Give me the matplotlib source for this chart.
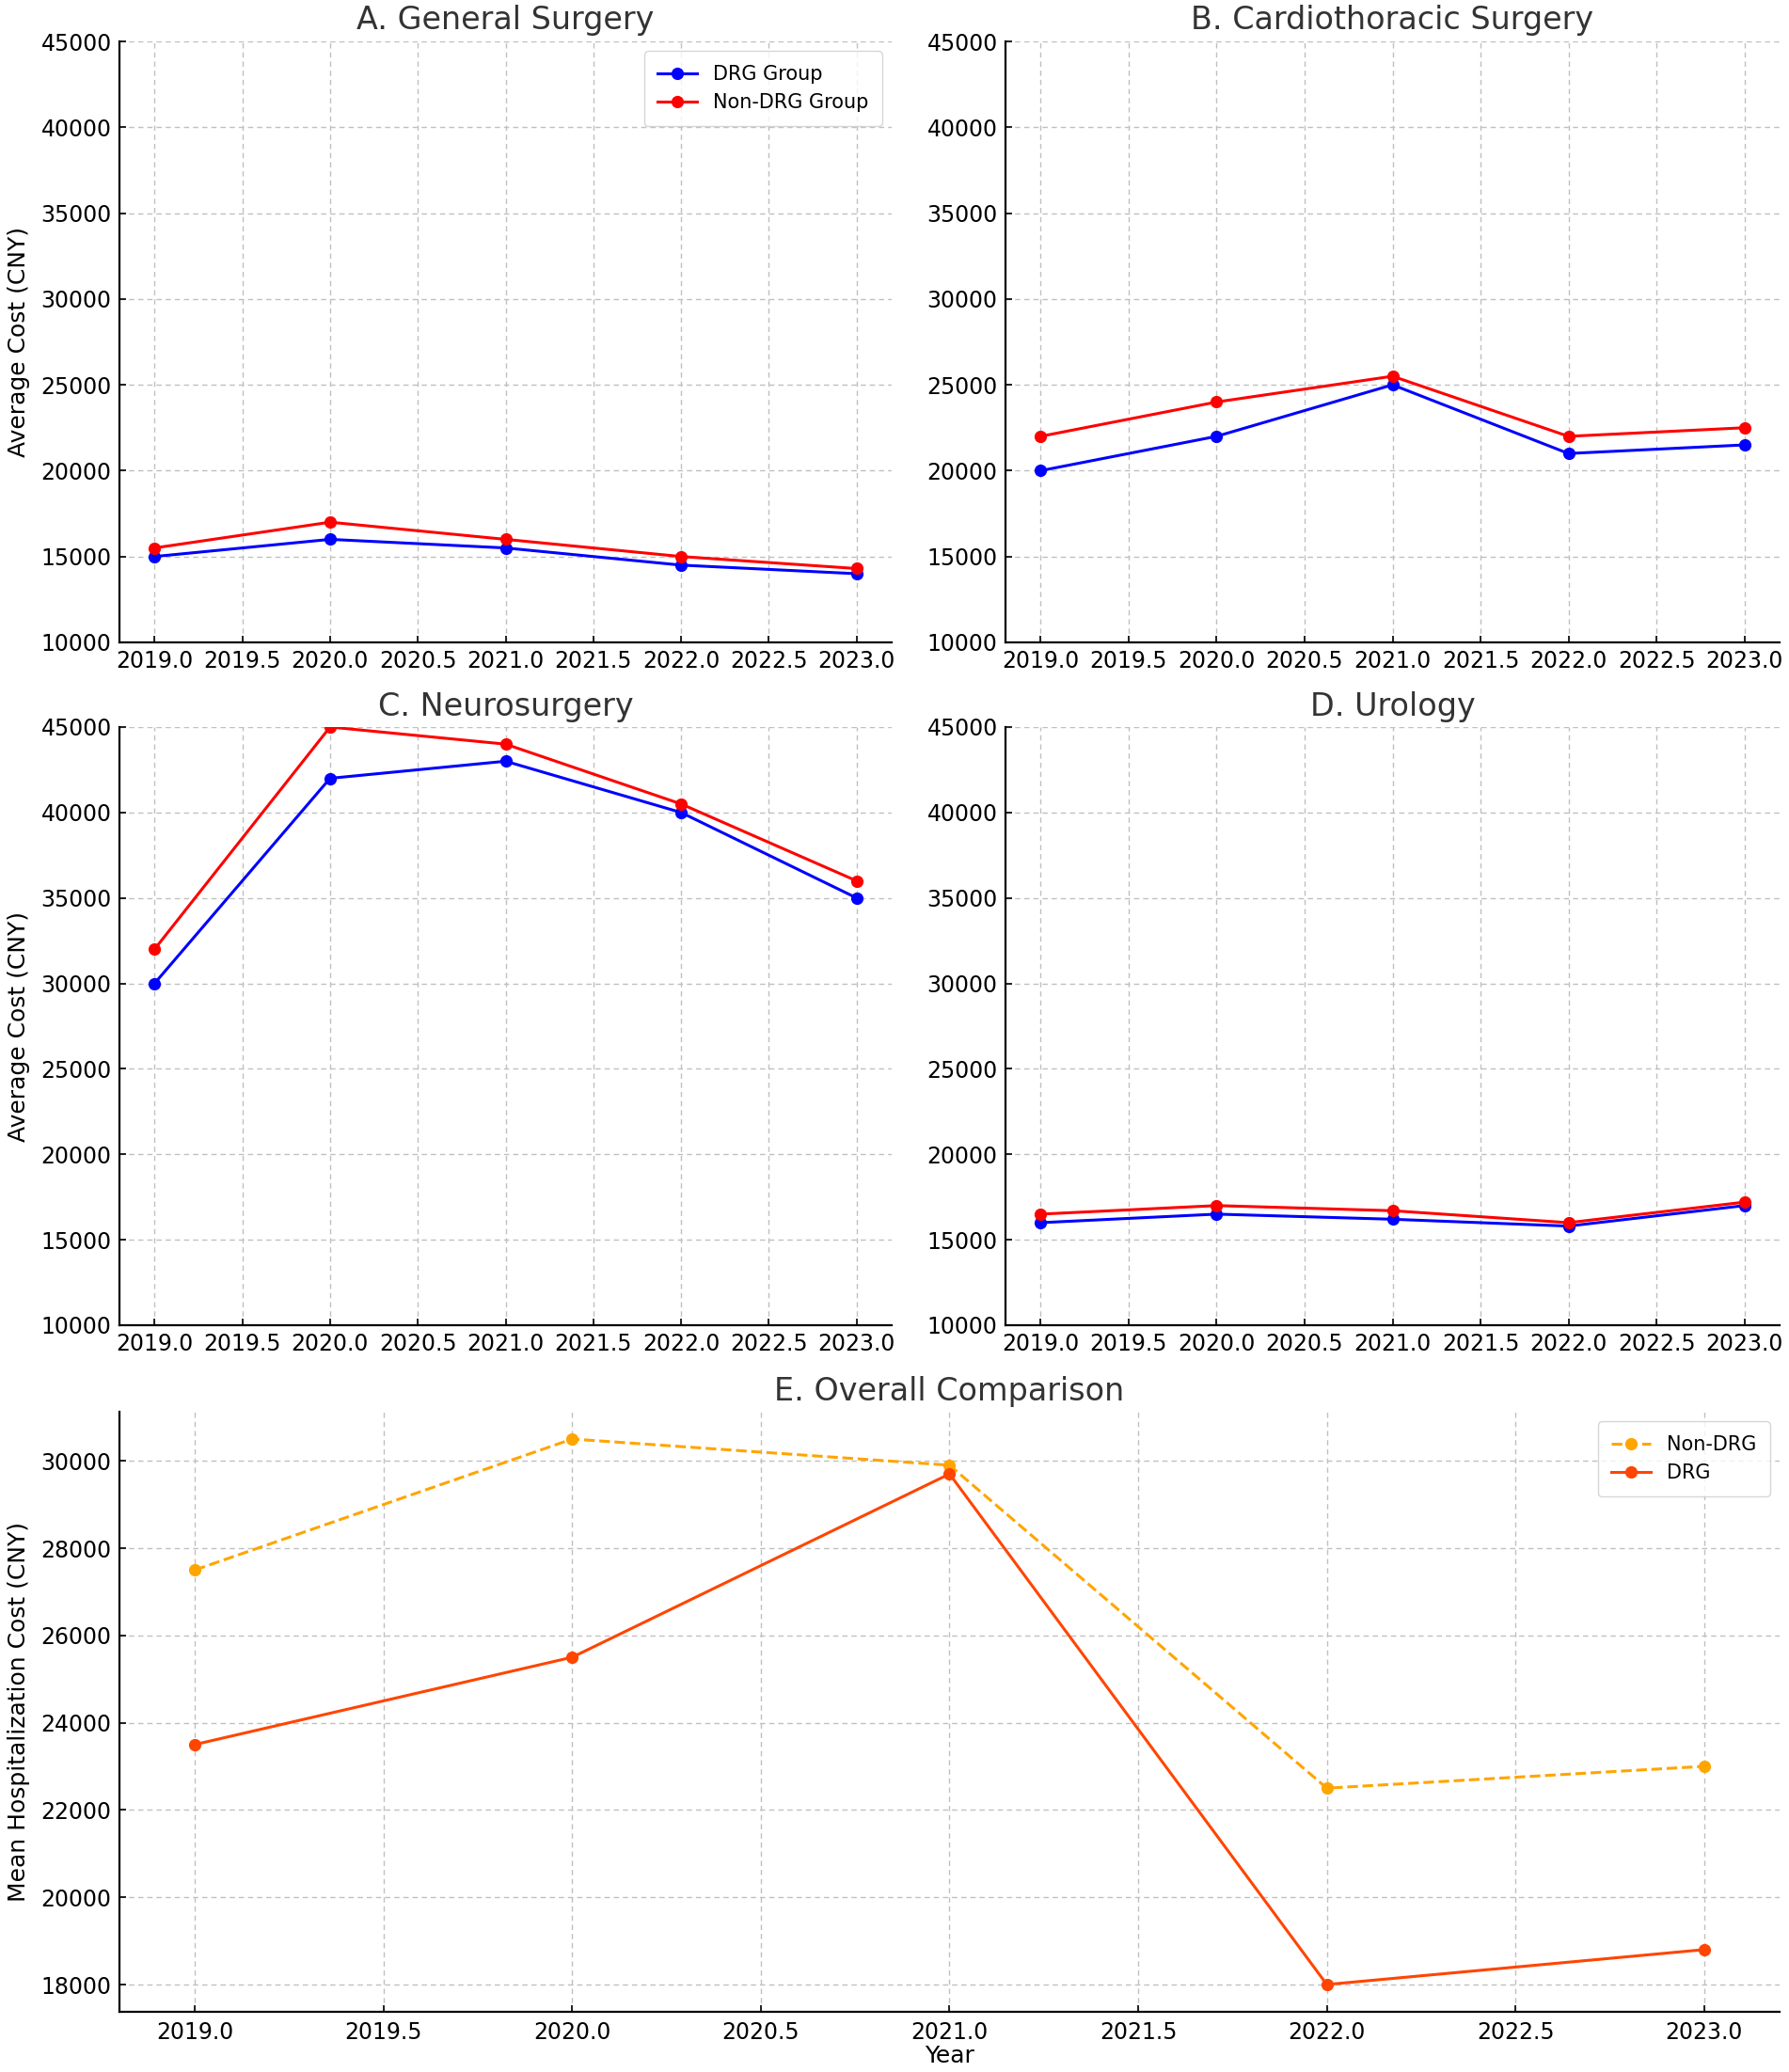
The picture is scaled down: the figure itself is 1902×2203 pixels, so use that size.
import matplotlib
matplotlib.use("Agg")
import matplotlib.pyplot as plt

years = [2019, 2020, 2021, 2022, 2023]

gs_drg = [15000, 16000, 15500, 14500, 14000]
gs_non = [15500, 17000, 16000, 15000, 14300]
ct_drg = [20000, 22000, 25000, 21000, 21500]
ct_non = [22000, 24000, 25500, 22000, 22500]
ns_drg = [30000, 42000, 43000, 40000, 35000]
ns_non = [32000, 45000, 44000, 40500, 36000]
ur_drg = [16000, 16500, 16200, 15800, 17000]
ur_non = [16500, 17000, 16700, 16000, 17200]

overall_non = [27500, 30500, 29900, 22500, 23000]
overall_drg = [23500, 25500, 29700, 18000, 18800]

titles = ["A. General Surgery", "B. Cardiothoracic Surgery", "C. Neurosurgery", "D. Urology"]
panel_data = [(gs_drg, gs_non), (ct_drg, ct_non), (ns_drg, ns_non), (ur_drg, ur_non)]

plt.rcParams['font.family'] = ['DejaVu Sans']

W, H = 1902, 2203
fig = plt.figure(figsize=(W / 100, H / 100), dpi=100)

def rect(l, t, r, b):
    return [l / W, 1 - b / H, (r - l) / W, (b - t) / H]

rects = [rect(127, 44, 948, 683), rect(1069, 44, 1892, 683),
         rect(127, 773, 948, 1409), rect(1069, 773, 1892, 1409)]

def style(ax):
    ax.grid(True, linestyle=(0, (4, 3)), color='#c0c0c0', linewidth=1.0)
    ax.set_axisbelow(True)
    for s in ['top', 'right']:
        ax.spines[s].set_visible(False)
    for s in ['left', 'bottom']:
        ax.spines[s].set_linewidth(1.6)
        ax.spines[s].set_color('black')
    ax.tick_params(direction='in', length=5, width=1.2, labelsize=17, pad=6)

for i, (r, t, (d, n)) in enumerate(zip(rects, titles, panel_data)):
    ax = fig.add_axes(r)
    ax.plot(years, d, color='blue', marker='o', linewidth=2.2, markersize=8.5, label='DRG Group')
    ax.plot(years, n, color='red', marker='o', linewidth=2.2, markersize=8.5, label='Non-DRG Group')
    ax.set_ylim(10000, 45000)
    ax.set_title(t, fontsize=24, color='#333333', pad=9)
    style(ax)
    if i % 2 == 0:
        ax.set_ylabel("Average Cost (CNY)", fontsize=18, labelpad=8)
    if i == 0:
        ax.legend(loc='upper right', fontsize=15, borderpad=0.7, framealpha=0.8)

axE = fig.add_axes(rect(127, 1501, 1892, 2139))
axE.plot(years, overall_non, color='orange', linestyle='--', marker='o', linewidth=2.2, markersize=8.5, label='Non-DRG')
axE.plot(years, overall_drg, color='orangered', linestyle='-', marker='o', linewidth=2.2, markersize=8.5, label='DRG')
axE.set_title("E. Overall Comparison", fontsize=24, color='#333333', pad=9)
axE.set_xlabel("Year", fontsize=18, labelpad=1)
axE.set_ylabel("Mean Hospitalization Cost (CNY)", fontsize=18, labelpad=8)
style(axE)
axE.tick_params(axis='x', pad=7)
axE.legend(loc='upper right', fontsize=15, borderpad=0.7, framealpha=0.8)

fig.savefig("out.png", dpi=100)
